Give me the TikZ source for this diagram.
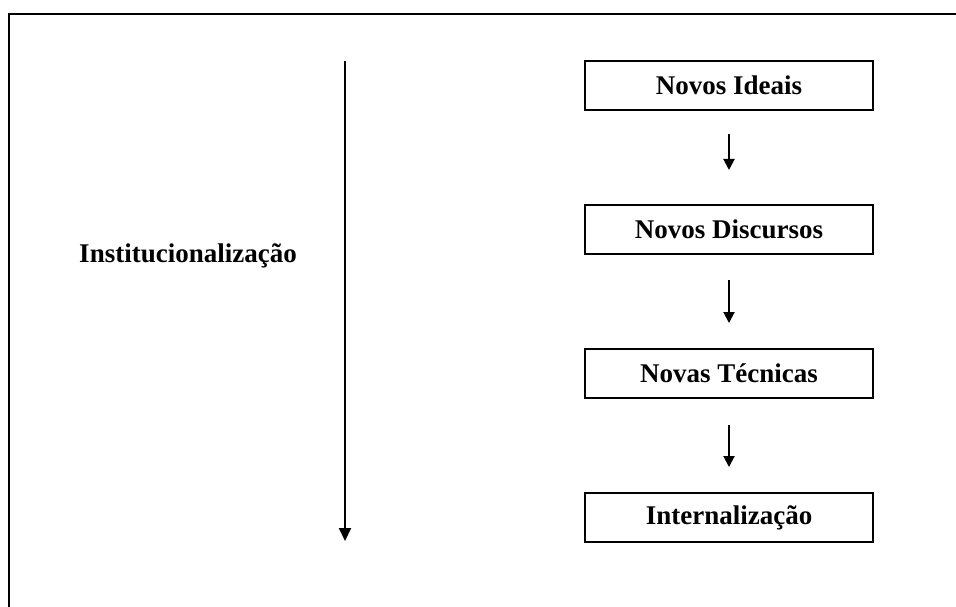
\documentclass[tikz,border=0pt]{standalone}
\usepackage{fontspec}
\setmainfont{Liberation Serif}
\usetikzlibrary{arrows.meta}
\begin{document}
\begin{tikzpicture}[x=1pt,y=-1pt,
  stagebox/.style={draw=black, line width=2pt, minimum width=288pt, minimum height=49pt, inner sep=0pt, font=\fontsize{27}{32}\selectfont\bfseries},
  lbl/.style={inner sep=0pt, font=\fontsize{27}{32}\selectfont\bfseries},
  flow/.style={line width=2pt, -{Triangle[width=11pt,length=11pt]}},
  bigflow/.style={line width=2pt, -{Triangle[width=12pt,length=13pt]}}]
\useasboundingbox (0,0) rectangle (956,607);
\fill[white] (0,0) rectangle (956,607);
\clip (0,0) rectangle (956,607);
\draw[line width=2pt] (9,14) rectangle (970,620);
\node[stagebox] (b1) at (729,85.5) {Novos Ideais};
\node[stagebox] (b2) at (729,229.5) {Novos Discursos};
\node[stagebox] (b3) at (729,373.5) {Novas Técnicas};
\node[stagebox] (b4) at (729,517.5) {Internalização};
\node[lbl] (inst) at (188,256) {Institucionalização};
\coordinate (ltop) at (345,61);
\coordinate (lbot) at (345,541);
\draw[bigflow] (ltop) -- (lbot);
\draw[flow, shorten <=23pt, shorten >=34pt] (b1.south) -- (b2.north);
\draw[flow, shorten <=25pt, shorten >=25pt] (b2.south) -- (b3.north);
\draw[flow, shorten <=26pt, shorten >=25pt] (b3.south) -- (b4.north);
\end{tikzpicture}
\end{document}
